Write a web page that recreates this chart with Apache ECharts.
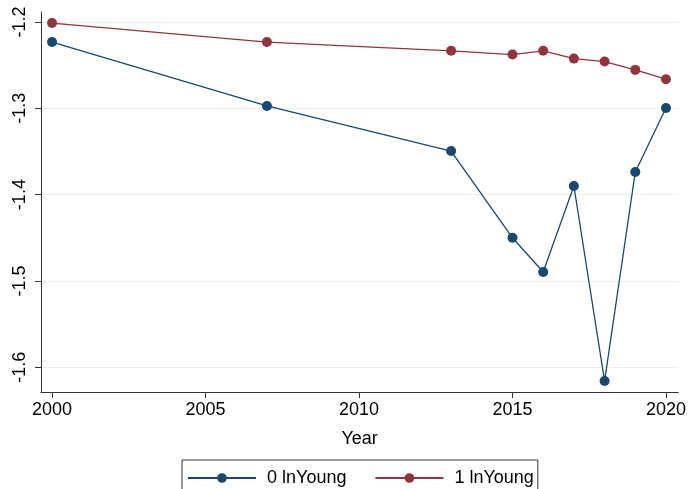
<!DOCTYPE html>
<html><head><meta charset="utf-8">
<script src="https://cdn.jsdelivr.net/npm/echarts@6/dist/echarts.min.js"></script>
<style>html,body{margin:0;padding:0;background:#fff}#c{width:689px;height:489px}</style>
</head><body><div id="c"></div>
<script>
const years = [2000, 2007, 2013, 2015, 2016, 2017, 2018, 2019, 2020];
const young0 = [-1.2232, -1.2973, -1.3495, -1.4500, -1.4897, -1.3900, -1.6160, -1.3738, -1.2997];
const young1 = [-1.2012, -1.2232, -1.2334, -1.2377, -1.2334, -1.2424, -1.2458, -1.2555, -1.2663];
const xTicks = [2000, 2005, 2010, 2015, 2020];
const yTicks = [-1.6, -1.5, -1.4, -1.3, -1.2];
const seriesNames = ['0 lnYoung', '1 lnYoung'];

const font = 'Liberation Sans, Arial, sans-serif';
const chart = echarts.init(document.getElementById('c'), null, {renderer: 'canvas'});
chart.setOption({
  animation: false,
  backgroundColor: '#fff',
  grid: {left: 41, right: 9, top: 12, bottom: 97, containLabel: false},
  xAxis: {
    type: 'value', min: 1999.64, max: 2020.4,
    name: 'Year', nameLocation: 'middle', nameGap: 38,
    nameTextStyle: {fontFamily: font, fontSize: 18, color: '#000'},
    axisLine: {show: true, onZero: false, lineStyle: {color: '#333', width: 1}},
    axisTick: {show: true, length: 6, customValues: xTicks, lineStyle: {color: '#333'}},
    axisLabel: {customValues: xTicks, fontFamily: font, fontSize: 18, color: '#000', margin: 9,
      formatter: v => String(v)},
    splitLine: {show: false}
  },
  yAxis: {
    type: 'value', min: -1.6287, max: -1.1884,
    axisLine: {show: true, onZero: false, lineStyle: {color: '#333', width: 1}},
    axisTick: {show: true, length: 6, customValues: yTicks, lineStyle: {color: '#333'}},
    axisLabel: {customValues: yTicks, rotate: 90, fontFamily: font, fontSize: 18, color: '#000', margin: 12,
      formatter: v => v.toFixed(1)},
    splitLine: {show: true, lineStyle: {color: '#e8f0f2', width: 1}}
  },
  legend: {
    top: 460, left: 182,
    data: seriesNames,
    itemWidth: 68, itemHeight: 12, itemGap: 28,
    padding: [9, 4, 14, 5],
    borderColor: '#333', borderWidth: 1,
    textStyle: {fontFamily: font, fontSize: 18, color: '#000', padding: [0, 0, 0, 6]}
  },
  series: [
    {name: seriesNames[0], type: 'line', data: years.map((y, i) => [y, young0[i]]),
     color: '#1a476f', symbol: 'circle', symbolSize: 10,
     lineStyle: {width: 1.3, color: '#1a476f'}, itemStyle: {color: '#1a476f'}},
    {name: seriesNames[1], type: 'line', data: years.map((y, i) => [y, young1[i]]),
     color: '#90353b', symbol: 'circle', symbolSize: 10,
     lineStyle: {width: 1.3, color: '#90353b'}, itemStyle: {color: '#90353b'}}
  ]
});
</script></body></html>
